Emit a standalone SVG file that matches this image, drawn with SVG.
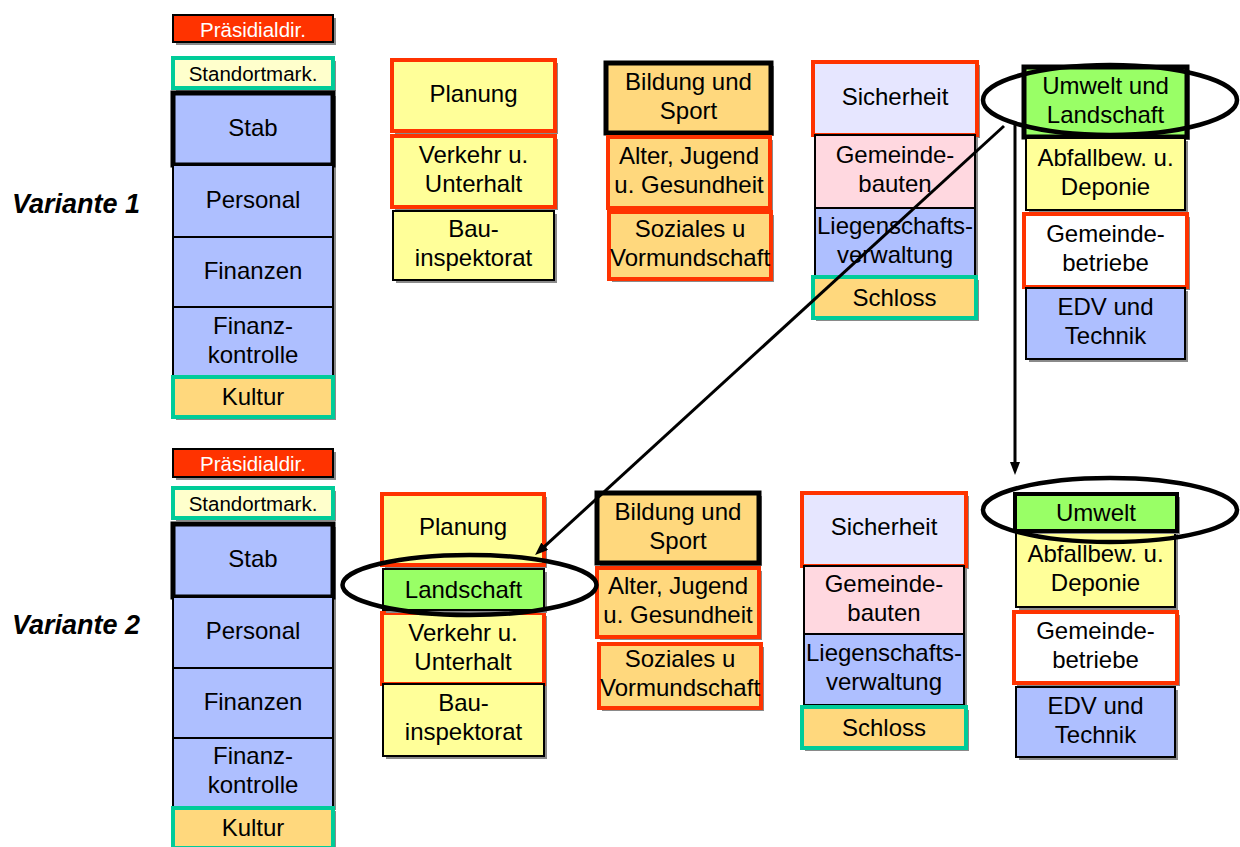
<svg xmlns="http://www.w3.org/2000/svg" width="1240" height="847" viewBox="0 0 1240 847">
<style>
.sh{fill:#8a8a8a}
.thin{stroke:#000;stroke-width:2}
.red{stroke:#FF3300;stroke-width:4}
.blk{stroke:#000;stroke-width:5}
.blk3{stroke:#000;stroke-width:4}
.teal{stroke:#00CC99;stroke-width:4}
.fr{fill:#FF3300}
.fy{fill:#FFFF99}
.fly{fill:#FFFFCC}
.fo{fill:#FFD87D}
.fb{fill:#AEBFFF}
.fl{fill:#E6E6FF}
.fp{fill:#FFD8E0}
.fg{fill:#99FF66}
.fw{fill:#FFFFFF}
text{font-family:"Liberation Sans",Arial,Helvetica,sans-serif;font-size:24px;text-anchor:middle;fill:#000}
.sm{font-size:20.5px}
.wt{fill:#fff}
.var{font-size:27px;font-weight:bold;font-style:italic;text-anchor:start}
.ell{fill:none;stroke:#000;stroke-width:4.5}
.con{stroke:#000;stroke-width:3;fill:none}
</style>
<defs>
<marker id="ah" markerUnits="userSpaceOnUse" markerWidth="16" markerHeight="12" refX="5" refY="5" orient="auto">
<path d="M0,0 L13,5 L0,10 z" fill="#000"/>
</marker>
</defs>

<text class="var" x="12" y="213">Variante 1</text>
<text class="var" x="12" y="634">Variante 2</text>

<!-- Variante 1, column 1 -->
<g id="praes1"><rect class="sh" x="176" y="18" width="160" height="27"/><rect class="fr thin" x="173" y="15" width="160" height="27"/><text class="sm wt" x="253" y="36.5">Präsidialdir.</text></g>
<g id="stand1"><rect class="sh" x="176" y="61" width="160" height="30"/><rect class="fly teal" x="173" y="58" width="160" height="30"/><text class="sm" x="253" y="81">Standortmark.</text></g>
<g id="stab1"><rect class="sh" x="176" y="96" width="160" height="72"/><rect class="fb blk" x="173" y="93" width="160" height="72"/><text x="253" y="135.5">Stab</text></g>
<g id="pers1"><rect class="sh" x="176" y="168" width="160" height="72"/><rect class="fb thin" x="173" y="165" width="160" height="72"/><text x="253" y="207.5">Personal</text></g>
<g id="fin1"><rect class="sh" x="176" y="240" width="160" height="70"/><rect class="fb thin" x="173" y="237" width="160" height="70"/><text x="253" y="278.5">Finanzen</text></g>
<g id="fk1"><rect class="sh" x="176" y="310" width="160" height="70"/><rect class="fb thin" x="173" y="307" width="160" height="70"/><text x="253" y="333.5">Finanz-</text><text x="253" y="362.5">kontrolle</text></g>
<g id="kultur1"><rect class="sh" x="176" y="380" width="160" height="40"/><rect class="fo teal" x="173" y="377" width="160" height="40"/><text x="253" y="405">Kultur</text></g>

<!-- Variante 1, column 2 -->
<g id="plan1"><rect class="sh" x="395" y="63" width="163" height="71"/><rect class="fy red" x="392" y="60" width="163" height="71"/><text x="473.5" y="102">Planung</text></g>
<g id="verk1"><rect class="sh" x="395" y="139" width="163" height="71"/><rect class="fy red" x="392" y="136" width="163" height="71"/><text x="473.5" y="163">Verkehr u.</text><text x="473.5" y="192">Unterhalt</text></g>
<g id="bau1"><rect class="sh" x="396" y="214" width="161" height="69"/><rect class="fy thin" x="393" y="211" width="161" height="69"/><text x="473.5" y="236.5">Bau-</text><text x="473.5" y="265.5">inspektorat</text></g>

<!-- Variante 1, column 3 -->
<g id="bild1"><rect class="sh" x="609" y="66" width="165" height="70"/><rect class="fo blk" x="606" y="63" width="165" height="70"/><text x="688.5" y="90">Bildung und</text><text x="688.5" y="119">Sport</text></g>
<g id="alter1"><rect class="sh" x="611" y="140" width="162" height="71"/><rect class="fo red" x="608" y="137" width="162" height="71"/><text x="689" y="164">Alter, Jugend</text><text x="689" y="193">u. Gesundheit</text></g>
<g id="soz1"><rect class="sh" x="612" y="215" width="162" height="67"/><rect class="fo red" x="609" y="212" width="162" height="67"/><text x="690" y="237">Soziales u</text><text x="690" y="266">Vormundschaft</text></g>

<!-- Variante 1, column 4 -->
<g id="sich1"><rect class="sh" x="816" y="65" width="164" height="73"/><rect class="fl red" x="813" y="62" width="164" height="73"/><text x="895" y="105">Sicherheit</text></g>
<g id="gbau1"><rect class="sh" x="818" y="138" width="160" height="73"/><rect class="fp thin" x="815" y="135" width="160" height="73"/><text x="895" y="163">Gemeinde-</text><text x="895" y="192">bauten</text></g>
<g id="lieg1"><rect class="sh" x="818" y="211" width="160" height="69"/><rect class="fb thin" x="815" y="208" width="160" height="69"/><text x="895" y="234">Liegenschafts-</text><text x="895" y="263">verwaltung</text></g>
<g id="schloss1"><rect class="sh" x="816" y="280" width="163" height="41"/><rect class="fo teal" x="813" y="277" width="163" height="41"/><text x="894.5" y="305.5">Schloss</text></g>

<!-- Variante 1, column 5 -->
<g id="umwelt1"><rect class="sh" x="1027" y="70" width="163" height="70"/><rect class="fg blk" x="1024" y="67" width="163" height="70"/><text x="1105.5" y="93.5">Umwelt und</text><text x="1105.5" y="122.5">Landschaft</text></g>
<g id="abfall1"><rect class="sh" x="1029" y="141" width="159" height="72"/><rect class="fy thin" x="1026" y="138" width="159" height="72"/><text x="1105.5" y="165.5">Abfallbew. u.</text><text x="1105.5" y="194.5">Deponie</text></g>
<g id="gbetr1"><rect class="sh" x="1027" y="217" width="163" height="73"/><rect class="fw red" x="1024" y="214" width="163" height="73"/><text x="1105.5" y="242">Gemeinde-</text><text x="1105.5" y="271">betriebe</text></g>
<g id="edv1"><rect class="sh" x="1029" y="291" width="159" height="71"/><rect class="fb thin" x="1026" y="288" width="159" height="71"/><text x="1105.5" y="315">EDV und</text><text x="1105.5" y="344">Technik</text></g>

<!-- Variante 2, column 1 -->
<g id="praes2"><rect class="sh" x="176" y="452" width="160" height="28"/><rect class="fr thin" x="173" y="449" width="160" height="28"/><text class="sm wt" x="253" y="471">Präsidialdir.</text></g>
<g id="stand2"><rect class="sh" x="176" y="491" width="160" height="30"/><rect class="fly teal" x="173" y="488" width="160" height="30"/><text class="sm" x="253" y="511">Standortmark.</text></g>
<g id="stab2"><rect class="sh" x="176" y="527" width="160" height="73"/><rect class="fb blk" x="173" y="524" width="160" height="73"/><text x="253" y="567">Stab</text></g>
<g id="pers2"><rect class="sh" x="176" y="600" width="160" height="71"/><rect class="fb thin" x="173" y="597" width="160" height="71"/><text x="253" y="639">Personal</text></g>
<g id="fin2"><rect class="sh" x="176" y="671" width="160" height="70"/><rect class="fb thin" x="173" y="668" width="160" height="70"/><text x="253" y="709.5">Finanzen</text></g>
<g id="fk2"><rect class="sh" x="176" y="741" width="160" height="69"/><rect class="fb thin" x="173" y="738" width="160" height="69"/><text x="253" y="764">Finanz-</text><text x="253" y="793">kontrolle</text></g>
<g id="kultur2"><rect class="sh" x="176" y="811" width="160" height="40"/><rect class="fo teal" x="173" y="808" width="160" height="40"/><text x="253" y="836">Kultur</text></g>

<!-- Variante 2, column 2 -->
<g id="plan2"><rect class="sh" x="385" y="497" width="162" height="71"/><rect class="fy red" x="382" y="494" width="162" height="71"/><text x="463" y="535">Planung</text></g>
<g id="verk2"><rect class="sh" x="385" y="616" width="162" height="71"/><rect class="fy red" x="382" y="613" width="162" height="71"/><text x="463" y="641">Verkehr u.</text><text x="463" y="670">Unterhalt</text></g>
<g id="bau2"><rect class="sh" x="386" y="687" width="161" height="72"/><rect class="fy thin" x="383" y="684" width="161" height="72"/><text x="463.5" y="711">Bau-</text><text x="463.5" y="740">inspektorat</text></g>
<g id="land2"><rect class="sh" x="386" y="572" width="161" height="41"/><rect class="fg thin" x="383" y="569" width="161" height="41"/><text x="463.5" y="597.5">Landschaft</text></g>

<!-- Variante 2, column 3 -->
<g id="bild2"><rect class="sh" x="600" y="496" width="162" height="70"/><rect class="fo blk" x="597" y="493" width="162" height="70"/><text x="678" y="520">Bildung und</text><text x="678" y="549">Sport</text></g>
<g id="alter2"><rect class="sh" x="600" y="571" width="162" height="69"/><rect class="fo red" x="597" y="568" width="162" height="69"/><text x="678" y="594">Alter, Jugend</text><text x="678" y="623">u. Gesundheit</text></g>
<g id="soz2"><rect class="sh" x="602" y="647" width="162" height="64"/><rect class="fo red" x="599" y="644" width="162" height="64"/><text x="680" y="667">Soziales u</text><text x="680" y="696">Vormundschaft</text></g>

<!-- Variante 2, column 4 -->
<g id="sich2"><rect class="sh" x="805" y="496" width="164" height="73"/><rect class="fl red" x="802" y="493" width="164" height="73"/><text x="884" y="535">Sicherheit</text></g>
<g id="gbau2"><rect class="sh" x="807" y="569" width="160" height="68"/><rect class="fp thin" x="804" y="566" width="160" height="68"/><text x="884" y="592">Gemeinde-</text><text x="884" y="621">bauten</text></g>
<g id="lieg2"><rect class="sh" x="807" y="637" width="160" height="71"/><rect class="fb thin" x="804" y="634" width="160" height="71"/><text x="884" y="661">Liegenschafts-</text><text x="884" y="690">verwaltung</text></g>
<g id="schloss2"><rect class="sh" x="805" y="710" width="164" height="41"/><rect class="fo teal" x="802" y="707" width="164" height="41"/><text x="884" y="735.5">Schloss</text></g>

<!-- Variante 2, column 5 -->
<g id="abf2"><rect class="sh" x="1019" y="534" width="159" height="76"/><rect class="fy thin" x="1016" y="531" width="159" height="76"/><text x="1095.5" y="562">Abfallbew. u.</text><text x="1095.5" y="591">Deponie</text></g>
<g id="umw2"><rect class="sh" x="1018" y="497" width="162" height="37"/><rect class="fg blk3" x="1015" y="494" width="162" height="37"/><text x="1096" y="521">Umwelt</text></g>
<g id="gbetr2"><rect class="sh" x="1017" y="615" width="163" height="71"/><rect class="fw red" x="1014" y="612" width="163" height="71"/><text x="1095.5" y="639">Gemeinde-</text><text x="1095.5" y="668">betriebe</text></g>
<g id="edv2"><rect class="sh" x="1019" y="690" width="159" height="70"/><rect class="fb thin" x="1016" y="687" width="159" height="70"/><text x="1095.5" y="713.5">EDV und</text><text x="1095.5" y="742.5">Technik</text></g>

<!-- Highlight ellipses and connectors -->
<g id="connectors">
<ellipse class="ell" cx="1110" cy="100" rx="127" ry="35"/>
<ellipse class="ell" cx="469.5" cy="585" rx="127" ry="30"/>
<ellipse class="ell" cx="1110" cy="510" rx="127" ry="32"/>
<line class="con" x1="1015" y1="122" x2="1015" y2="467" marker-end="url(#ah)"/>
<line class="con" x1="1004" y1="126" x2="541" y2="549.6" marker-end="url(#ah)"/>
</g>
</svg>
